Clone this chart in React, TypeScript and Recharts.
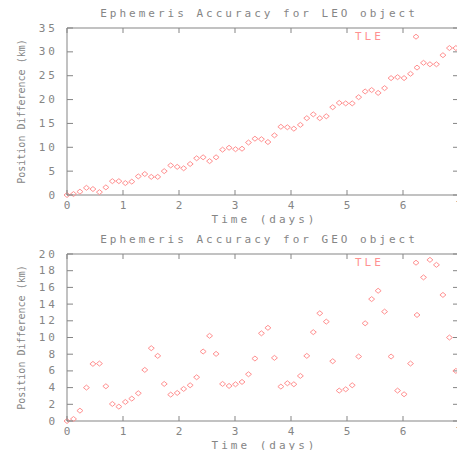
import { ScatterChart, Scatter, XAxis, YAxis, Label, ReferenceLine } from "recharts";

// sample times (days), one sample every 10000 s
const times = [
  0, 0.116, 0.231, 0.347, 0.463, 0.579, 0.694, 0.81, 0.926, 1.042,
  1.157, 1.273, 1.389, 1.505, 1.62, 1.736, 1.852, 1.968, 2.083, 2.199,
  2.315, 2.431, 2.546, 2.662, 2.778, 2.894, 3.009, 3.125, 3.241, 3.356,
  3.472, 3.588, 3.704, 3.819, 3.935, 4.051, 4.167, 4.282, 4.398, 4.514,
  4.63, 4.745, 4.861, 4.977, 5.093, 5.208, 5.324, 5.44, 5.556, 5.671,
  5.787, 5.903, 6.019, 6.134, 6.25, 6.366, 6.481, 6.597, 6.713, 6.829,
  6.944,
];

// position difference (km)
const leoDiff = [
  0, 0.2, 0.7, 1.5, 1.25, 0.6, 1.6, 2.9, 2.9, 2.5,
  2.8, 3.9, 4.4, 3.8, 3.8, 5.0, 6.2, 5.9, 5.6, 6.5,
  7.7, 7.9, 7.1, 7.9, 9.5, 9.9, 9.6, 9.7, 11.0, 11.8,
  11.7, 11.1, 12.5, 14.3, 14.2, 13.9, 14.7, 16.1, 16.9, 16.1,
  16.5, 18.4, 19.3, 19.2, 19.2, 20.5, 21.7, 22.0, 21.4, 22.4,
  24.5, 24.7, 24.5, 25.4, 26.7, 27.7, 27.4, 27.4, 29.3, 30.8,
  30.8,
];

const geoDiff = [
  0, 0.24, 1.24, 4.0, 6.84, 6.88, 4.16, 2.04, 1.72, 2.28,
  2.68, 3.32, 6.12, 8.72, 7.8, 4.44, 3.16, 3.36, 3.84, 4.28,
  5.24, 8.32, 10.2, 8.04, 4.44, 4.2, 4.4, 4.68, 5.6, 7.48,
  10.5, 11.16, 7.56, 4.12, 4.52, 4.4, 5.4, 7.8, 10.64, 12.9,
  11.9, 7.16, 3.64, 3.8, 4.28, 7.72, 11.7, 14.6, 15.6, 13.1,
  7.72, 3.64, 3.2, 6.88, 12.7, 17.2, 19.3, 18.7, 15.1, 10.0,
  6.0,
];

const dayTicks = [0, 1, 2, 3, 4, 5, 6, 7];
const leoTicks = [0, 5, 10, 15, 20, 25, 30, 35];
const geoTicks = [0, 2, 4, 6, 8, 10, 12, 14, 16, 18, 20];

const GRAY = "#858585";
const PINK = "#ff9191";
const FONT = "'DejaVu Sans Mono', monospace";
const X_MAX = 7;
const PLOT_W = 392;
const PLOT_H = 167;

const textStyle = {
  fontFamily: FONT,
  fontSize: 11,
  letterSpacing: 3,
  fill: GRAY,
};

function Diamond(props: any) {
  const { cx, cy } = props;
  if (cx == null || cy == null) return null;
  return (
    <path
      d={`M${cx - 3},${cy} L${cx},${cy - 2.5} L${cx + 3},${cy} L${cx},${cy + 2.5} Z`}
      fill="none"
      stroke={PINK}
      strokeWidth={1}
    />
  );
}

function BottomTick({ x, y, payload }: any) {
  return (
    <g>
      <line x1={x} x2={x} y1={y} y2={y - 5} stroke={GRAY} />
      <text {...textStyle} x={x + 1.5} y={y + 10} textAnchor="middle" dominantBaseline="central">
        {payload.value}
      </text>
    </g>
  );
}

function LeftTick({ x, y, payload }: any) {
  return (
    <g>
      <line x1={x} x2={x + 6} y1={y} y2={y} stroke={GRAY} />
      <text {...textStyle} x={x - 9} y={y} textAnchor="end" dominantBaseline="central">
        {payload.value}
      </text>
    </g>
  );
}

// y-axis title, plot title and the TLE key, placed from the plot box
function Annotations({ viewBox, title }: any) {
  const cx = 21;
  const cy = viewBox.y + viewBox.height / 2;
  const keyY = viewBox.y + 8.7;
  return (
    <g>
      <text
        x={cx}
        y={cy}
        transform={`rotate(-90 ${cx} ${cy})`}
        textAnchor="middle"
        dominantBaseline="central"
        fontFamily={FONT}
        fontSize={10}
        fill={GRAY}
      >
        Position Difference (km)
      </text>
      <text {...textStyle} x={259} y={viewBox.y - 15} textAnchor="middle" dominantBaseline="central">
        {title}
      </text>
      <text {...textStyle} fill={PINK} x={355} y={keyY} dominantBaseline="central">
        TLE
      </text>
      <Diamond cx={416} cy={keyY} />
    </g>
  );
}

function AccuracyPlot({
  title,
  values,
  yMax,
  yTicks,
}: {
  title: string;
  values: number[];
  yMax: number;
  yTicks: number[];
}) {
  const data = times.map((t, i) => ({ t, v: values[i] }));
  // inward tick lengths (5 px / 6 px) expressed in data units
  const topTickLen = (yMax * 5) / PLOT_H;
  const rightTickLen = (X_MAX * 6) / PLOT_W;

  return (
    <ScatterChart width={480} height={225} margin={{ top: 28, right: 21, bottom: 0, left: 0 }}>
      <XAxis
        type="number"
        dataKey="t"
        domain={[0, X_MAX]}
        ticks={dayTicks}
        interval={0}
        height={30}
        stroke={GRAY}
        tickSize={0}
        tickMargin={0}
        tick={<BottomTick />}
      >
        <Label
          content={({ viewBox }: any) => (
            <text
              {...textStyle}
              x={viewBox.x + viewBox.width / 2 + 1.5}
              y={viewBox.y + 24.5}
              textAnchor="middle"
              dominantBaseline="central"
            >
              Time (days)
            </text>
          )}
        />
      </XAxis>
      <YAxis
        type="number"
        dataKey="v"
        domain={[0, yMax]}
        ticks={yTicks}
        interval={0}
        width={67}
        stroke={GRAY}
        tickSize={0}
        tickMargin={0}
        tick={<LeftTick />}
      >
        <Label content={(p: any) => <Annotations viewBox={p.viewBox} title={title} />} />
      </YAxis>

      {/* frame: top and right borders with inward ticks */}
      <ReferenceLine y={yMax} stroke={GRAY} ifOverflow="extendDomain" />
      <ReferenceLine x={X_MAX} stroke={GRAY} ifOverflow="extendDomain" />
      {dayTicks.map((d) => (
        <ReferenceLine
          key={`tt${d}`}
          segment={[
            { x: d, y: yMax },
            { x: d, y: yMax - topTickLen },
          ]}
          stroke={GRAY}
        />
      ))}
      {yTicks.map((v) => (
        <ReferenceLine
          key={`rt${v}`}
          segment={[
            { x: X_MAX, y: v },
            { x: X_MAX - rightTickLen, y: v },
          ]}
          stroke={GRAY}
        />
      ))}

      <Scatter
        name="TLE"
        data={data}
        shape={<Diamond />}
        isAnimationActive={false}
      />
    </ScatterChart>
  );
}

export default function App() {
  return (
    <div
      style={{
        position: "absolute",
        left: 0,
        top: 0,
        width: 457,
        height: 450,
        overflow: "hidden",
        background: "#fff",
      }}
    >
      <div style={{ position: "absolute", left: 0, top: 0 }}>
        <AccuracyPlot title="Ephemeris Accuracy for LEO object" values={leoDiff} yMax={35} yTicks={leoTicks} />
      </div>
      <div style={{ position: "absolute", left: 0, top: 226 }}>
        <AccuracyPlot title="Ephemeris Accuracy for GEO object" values={geoDiff} yMax={20} yTicks={geoTicks} />
      </div>
    </div>
  );
}
